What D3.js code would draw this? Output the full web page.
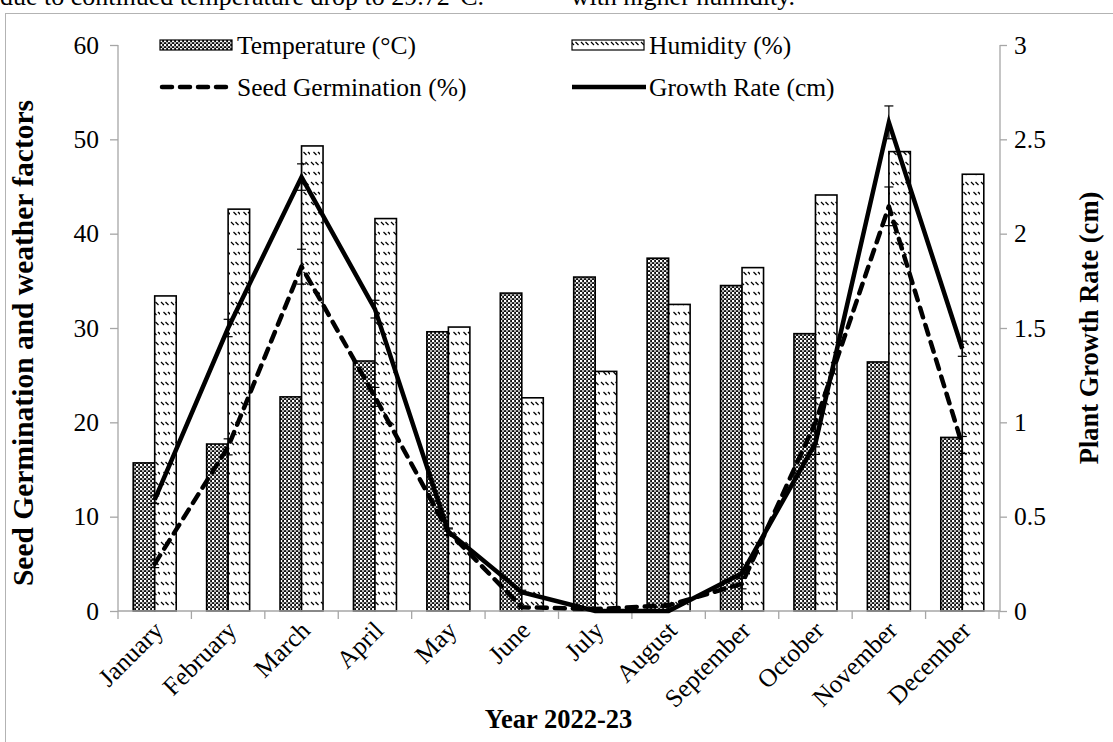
<!DOCTYPE html>
<html>
<head>
<meta charset="utf-8">
<script src="https://cdn.jsdelivr.net/npm/d3@7"></script>
<style>
  html, body { margin: 0; padding: 0; background: #ffffff; }
  svg { display: block; }
</style>
</head>
<body>
<svg id="chart" width="1113" height="742"></svg>
<script>
// ---------------- data ----------------
const months = ["January","February","March","April","May","June","July","August","September","October","November","December"];
const temperature = [15.7, 17.7, 22.7, 26.5, 29.6, 33.7, 35.4, 37.4, 34.5, 29.4, 26.4, 18.4];
const humidity    = [33.4, 42.6, 49.3, 41.6, 30.1, 22.6, 25.4, 32.5, 36.4, 44.1, 48.7, 46.3];
const germination = [5.0, 17.4, 36.5, 22.7, 8.4, 0.4, 0.2, 0.6, 2.9, 20.0, 42.9, 17.6];
const germinationErr = [0.4, 0.85, 1.85, 1.0, 0.3, 0.1, 0.1, 0.2, 0.55, 2.6, 2.05, 0.9];
const growth      = [0.59, 1.50, 2.30, 1.60, 0.42, 0.10, 0.0, 0.0, 0.20, 0.89, 2.59, 1.39];
const growthErr   = [0.02, 0.046, 0.07, 0.047, 0.02, 0.01, 0.0, 0.0, 0.02, 0.06, 0.087, 0.04];
const leftTicks  = [0, 10, 20, 30, 40, 50, 60];
const rightTicks = [0, 0.5, 1, 1.5, 2, 2.5, 3];
const legendLabels = ["Temperature (°C)", "Humidity (%)", "Seed Germination (%)", "Growth Rate (cm)"];
const captionLeft = "due to continued temperature drop to 29.72°C.";
const captionRight = "with higher humidity.";
const xTitle = "Year 2022-23";
const yLeftTitle = "Seed Germination and weather factors";
const yRightTitle = "Plant Growth Rate (cm)";

// ---------------- layout ----------------
const FONT = "'Liberation Serif', 'Times New Roman', Times, serif";
const FS = 25.5;
const svg = d3.select("#chart");
const plot = { left: 118, right: 999, top: 45, bottom: 611 };
const axisColor = "#a6a6a6";

const defs = svg.append("defs");
// temperature pattern: dark mesh with white dots
const pT = defs.append("pattern").attr("id","patTemp").attr("patternUnits","userSpaceOnUse")
  .attr("width",4).attr("height",4);
pT.append("rect").attr("width",4).attr("height",4).attr("fill","#111");
pT.append("circle").attr("cx",1).attr("cy",1).attr("r",1.3).attr("fill","#fff");
pT.append("circle").attr("cx",3).attr("cy",3).attr("r",0.9).attr("fill","#fff");
// humidity pattern: white with sparse short diagonal dashes
const pH = defs.append("pattern").attr("id","patHum").attr("patternUnits","userSpaceOnUse")
  .attr("width",10).attr("height",20);
pH.append("rect").attr("width",10).attr("height",20).attr("fill","#fff");
[[1,2],[5.5,2],[3.5,12],[8,12]].forEach(([px,py]) =>
  pH.append("line").attr("x1",px).attr("y1",py).attr("x2",px+3).attr("y2",py+3)
    .attr("stroke","#000").attr("stroke-width",1.3));

// frame and caption
svg.append("rect").attr("x",5.5).attr("y",13.5).attr("width",1130).attr("height",760)
  .attr("fill","none").attr("stroke","#b3b3b3").attr("stroke-width",1);
svg.append("text").attr("x",0).attr("y",5).attr("font-size",26).style("font-family",FONT).text(captionLeft);
svg.append("text").attr("x",795).attr("y",5).attr("text-anchor","end").attr("font-size",26).style("font-family",FONT).text(captionRight);

// scales
const x = d3.scaleBand().domain(months).range([plot.left, plot.right]).paddingInner(0).paddingOuter(0);
const yL = d3.scaleLinear().domain([0, 60]).range([plot.bottom, plot.top]);
const yR = d3.scaleLinear().domain([0, 3]).range([plot.bottom, plot.top]);
const barW = 21.5;
const cx = m => x(m) + x.bandwidth() / 2;

// bars
const g = svg.append("g");
g.selectAll("rect.temp").data(months).join("rect").attr("class","temp")
  .attr("x", m => cx(m) - barW).attr("width", barW)
  .attr("y", (m,i) => yL(temperature[i])).attr("height", (m,i) => yL(0) - yL(temperature[i]))
  .attr("fill","url(#patTemp)").attr("stroke","#000").attr("stroke-width",1.6);
g.selectAll("rect.hum").data(months).join("rect").attr("class","hum")
  .attr("x", m => cx(m)).attr("width", barW)
  .attr("y", (m,i) => yL(humidity[i])).attr("height", (m,i) => yL(0) - yL(humidity[i]))
  .attr("fill","url(#patHum)").attr("stroke","#000").attr("stroke-width",1.6);

// axes
const axL = d3.axisLeft(yL).tickValues(leftTicks).tickSize(8).tickPadding(11).tickFormat(d3.format("d"));
const axR = d3.axisRight(yR).tickValues(rightTicks).tickSize(7).tickPadding(7).tickFormat(d => d3.format("")(d));
const axB = d3.axisBottom(x).tickSize(0).tickFormat("");
function styleAxis(sel){
  sel.attr("font-family", FONT);
  sel.select(".domain").attr("stroke", axisColor).attr("stroke-width",1.3);
  sel.selectAll(".tick line").attr("stroke", axisColor).attr("stroke-width",1.3);
  sel.selectAll(".tick text").style("font-family", FONT).attr("font-size",FS).attr("fill","#000");
}
const gL = svg.append("g").attr("transform",`translate(${plot.left},0)`).call(axL); styleAxis(gL);
gL.select(".domain").attr("d", `M0,${plot.top}V${plot.bottom}`);
const gR = svg.append("g").attr("transform",`translate(${plot.right + 1},0)`).call(axR); styleAxis(gR);
gR.select(".domain").attr("d", `M0,${plot.top}V${plot.bottom}`);
const gB = svg.append("g").attr("transform",`translate(0,${plot.bottom})`).call(axB); styleAxis(gB);
gB.select(".domain").attr("d", `M${plot.left},0H${plot.right + 1}`);
// category boundary ticks
const bounds = months.map(m => x(m)).concat([plot.right]);
svg.append("g").selectAll("line").data(bounds).join("line")
  .attr("x1", d => d).attr("x2", d => d).attr("y1", plot.bottom).attr("y2", plot.bottom + 8)
  .attr("stroke", axisColor).attr("stroke-width",1.3);
// rotated month labels
svg.append("g").selectAll("text").data(months).join("text")
  .attr("transform", m => `translate(${cx(m) + 10},${plot.bottom + 21}) rotate(-45)`)
  .attr("text-anchor","end").attr("font-size",FS).style("font-family",FONT).text(m => m);

// lines
const lineL = d3.line().x((d,i) => cx(months[i])).y(d => yL(d));
const lineR = d3.line().x((d,i) => cx(months[i])).y(d => yR(d));
svg.append("path").attr("d", lineL(germination)).attr("fill","none").attr("stroke","#000")
  .attr("stroke-width",4.5).attr("stroke-dasharray","10,8").attr("stroke-linecap","round").attr("stroke-linejoin","round");
svg.append("path").attr("d", lineR(growth)).attr("fill","none").attr("stroke","#000")
  .attr("stroke-width",4.5).attr("stroke-linejoin","miter");

// error bars
function errBars(vals, errs, scale){
  const eg = svg.append("g").attr("stroke","#000").attr("stroke-width",1.2);
  vals.forEach((v,i) => {
    if (!errs[i]) return;
    const xc = cx(months[i]), y1 = scale(v + errs[i]), y0 = scale(Math.max(0, v - errs[i]));
    eg.append("line").attr("x1",xc).attr("x2",xc).attr("y1",y1).attr("y2",y0);
    eg.append("line").attr("x1",xc-4.5).attr("x2",xc+4.5).attr("y1",y1).attr("y2",y1);
    eg.append("line").attr("x1",xc-4.5).attr("x2",xc+4.5).attr("y1",y0).attr("y2",y0);
  });
}
errBars(germination, germinationErr, yL);
errBars(growth, growthErr, yR);

// axis titles
svg.append("text").attr("x", (plot.left + plot.right)/2).attr("y", 728).attr("text-anchor","middle")
  .attr("font-size",26.5).attr("font-weight","bold").style("font-family",FONT).text(xTitle);
svg.append("text").attr("transform",`translate(33,343) rotate(-90)`).attr("text-anchor","middle")
  .attr("font-size",29.5).attr("font-weight","bold").style("font-family",FONT).text(yLeftTitle);
svg.append("text").attr("transform",`translate(1098,${(plot.top+plot.bottom)/2}) rotate(-90)`).attr("text-anchor","middle")
  .attr("font-size",26.5).attr("font-weight","bold").style("font-family",FONT).text(yRightTitle);

// legend
const leg = svg.append("g");
const legItems = [
  {label: legendLabels[0], type:"bar", fill:"url(#patTemp)", x:160, y:45},
  {label: legendLabels[1], type:"bar", fill:"url(#patHum)", x:572, y:45},
  {label: legendLabels[2], type:"dash", x:160, y:87},
  {label: legendLabels[3], type:"solid", x:572, y:87}
];
legItems.forEach(it => {
  if (it.type === "bar") {
    leg.append("rect").attr("x", it.x).attr("y", it.y - 5).attr("width", 72).attr("height", 10)
      .attr("fill", it.fill).attr("stroke","#000").attr("stroke-width",1.2);
  } else if (it.type === "dash") {
    leg.append("line").attr("x1", it.x + 2).attr("x2", it.x + 72).attr("y1", it.y).attr("y2", it.y)
      .attr("stroke","#000").attr("stroke-width",4.5).attr("stroke-dasharray","10,8").attr("stroke-linecap","round");
  } else {
    leg.append("line").attr("x1", it.x).attr("x2", it.x + 74).attr("y1", it.y).attr("y2", it.y)
      .attr("stroke","#000").attr("stroke-width",4.5);
  }
  leg.append("text").attr("x", it.x + 77).attr("y", it.y).attr("dy","0.35em").attr("font-size",FS)
    .style("font-family",FONT).text(it.label);
});
</script>
</body>
</html>
